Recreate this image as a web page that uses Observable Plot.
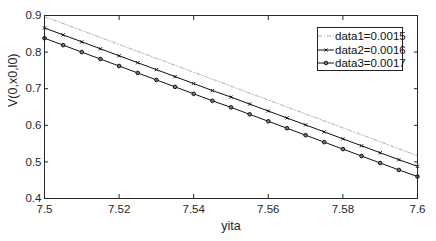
<!DOCTYPE html>
<html><head><meta charset="utf-8">
<script src="https://cdn.jsdelivr.net/npm/d3@7"></script>
<script src="https://cdn.jsdelivr.net/npm/@observablehq/plot@0.6"></script>
<style>
body{margin:0;background:#fff;font-family:"Liberation Sans",Arial,sans-serif;}
#wrap{position:relative;width:436px;height:241px;}
#legend{position:absolute;left:317px;top:27px;width:86px;height:44px;border:1px solid #222;background:#fff;font-size:11.5px;color:#111;box-sizing:border-box;}
#legend .row{position:absolute;left:0;height:14px;display:flex;align-items:center;}
#legend svg{display:block}
</style></head><body>
<div id="wrap"><div id="chart"></div><div id="legend"></div></div>
<script>
const yita = [7.5,7.505,7.51,7.515,7.52,7.525,7.53,7.535,7.54,7.545,7.55,7.555,7.56,7.565,7.57,7.575,7.58,7.585,7.59,7.595,7.6];
const data1 = [0.897,0.878,0.859,0.840,0.821,0.802,0.783,0.764,0.745,0.726,0.707,0.688,0.669,0.650,0.631,0.612,0.593,0.574,0.555,0.536,0.517];
const data2 = [0.866,0.847,0.828,0.809,0.790,0.771,0.752,0.733,0.714,0.695,0.677,0.658,0.639,0.620,0.601,0.582,0.563,0.544,0.525,0.506,0.488];
const data3 = [0.838,0.819,0.800,0.781,0.762,0.743,0.724,0.705,0.686,0.667,0.649,0.630,0.611,0.592,0.573,0.554,0.535,0.516,0.497,0.478,0.460];
const seriesNames = ["data1=0.0015","data2=0.0016","data3=0.0017"];
const xTicks = [7.5,7.52,7.54,7.56,7.58,7.6];
const yTicks = [0.4,0.5,0.6,0.7,0.8,0.9];

const rows = (vals) => yita.map((x,i)=>({x, y: vals[i]}));
const d1 = rows(data1), d2 = rows(data2), d3 = rows(data3);

const tickColor = "#262626";
const chart = Plot.plot({
  width: 436, height: 241,
  marginLeft: 44, marginRight: 19, marginTop: 15, marginBottom: 43,
  style: {fontFamily: '"Liberation Sans", Arial, sans-serif', fontSize: "11.5px", color: tickColor, background: "#fff"},
  x: {domain: [7.5, 7.6], label: null},
  y: {domain: [0.4, 0.9], label: null},
  marks: [
    Plot.line(d1, {x: "x", y: "y", stroke: "#9a9a9a", strokeWidth: 0.8, strokeDasharray: "4,2,1,2"}),
    Plot.line(d2, {x: "x", y: "y", stroke: "#111", strokeWidth: 1}),
    Plot.dot(d2, {x: "x", y: "y", symbol: "times", r: 1.6, stroke: "#111", strokeWidth: 1}),
    Plot.line(d3, {x: "x", y: "y", stroke: "#111", strokeWidth: 1}),
    Plot.dot(d3, {x: "x", y: "y", symbol: "circle", r: 1.8, stroke: "#111", strokeWidth: 1, fill: "#777"}),
    Plot.frame({stroke: tickColor, strokeWidth: 1}),
    Plot.axisX(xTicks, {anchor: "bottom", tickSize: -4, text: null, label: null, stroke: tickColor}),
    Plot.axisX(xTicks, {anchor: "top", tickSize: -4, text: null, label: null, stroke: tickColor}),
    Plot.axisY(yTicks, {anchor: "left", tickSize: -4, text: null, label: null, stroke: tickColor}),
    Plot.axisY(yTicks, {anchor: "right", tickSize: -4, text: null, label: null, stroke: tickColor}),
    Plot.axisX(xTicks, {anchor: "bottom", tickSize: 0, tickPadding: 6, label: null, tickFormat: d => String(d), fill: tickColor, fontSize: 11.5}),
    Plot.axisY(yTicks, {anchor: "left", tickSize: 0, tickPadding: 3, label: null, tickFormat: d => d.toFixed(1), fill: tickColor, fontSize: 11.5}),
    Plot.text(["yita"], {frameAnchor: "bottom", dy: 23, fill: tickColor, fontSize: 12.5, lineAnchor: "top"}),
    Plot.text(["V(0,x0,l0)"], {frameAnchor: "left", dx: -32, rotate: -90, fill: tickColor, fontSize: 12.5})
  ]
});
document.getElementById("chart").appendChild(chart);

// legend
const leg = document.getElementById("legend");
const styles = [
  {stroke:"#9a9a9a", dash:"4,2,1,2", marker:null},
  {stroke:"#111", dash:null, marker:"x"},
  {stroke:"#111", dash:null, marker:"o"}
];
seriesNames.forEach((name,i)=>{
  const row = document.createElement("div");
  row.className = "row";
  row.style.top = (1 + i*13.7) + "px";
  const s = styles[i];
  let m = "";
  if (s.marker==="x") m = `<path d="M6.5,5.5L9.5,8.5M9.5,5.5L6.5,8.5" stroke="#111" stroke-width="1"/>`;
  if (s.marker==="o") m = `<circle cx="8" cy="7" r="1.8" stroke="#111" fill="#777"/>`;
  row.innerHTML = `<svg width="16" height="14"><line x1="0" x2="16" y1="7" y2="7" stroke="${s.stroke}" stroke-width="${i?1:0.8}" ${s.dash?`stroke-dasharray="${s.dash}"`:""}/>${m}</svg><span style="margin-left:1px">${name}</span>`;
  leg.appendChild(row);
});
</script>
</body></html>
